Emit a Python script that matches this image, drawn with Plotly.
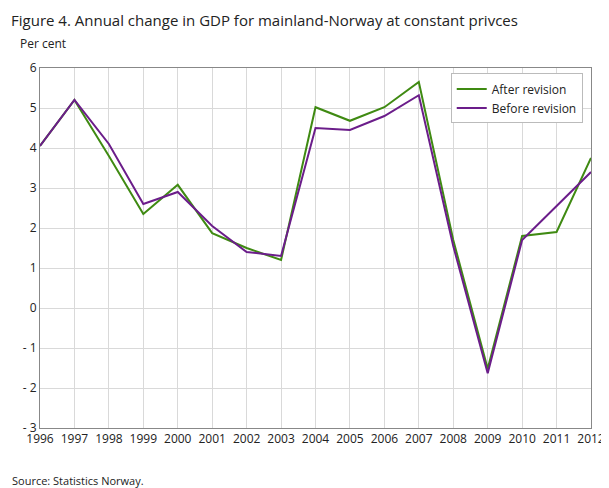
import plotly.graph_objects as go

years = list(range(1996, 2013))
after = [4.05, 5.2, 3.8, 2.35, 3.08, 1.87, 1.5, 1.2, 5.02, 4.68, 5.02, 5.65, 1.7, -1.52, 1.8, 1.9, 3.75]
before = [4.05, 5.2, 4.1, 2.6, 2.9, 2.05, 1.4, 1.3, 4.5, 4.45, 4.8, 5.32, 1.55, -1.63, 1.7, 2.55, 3.4]
yticks = [-3, -2, -1, 0, 1, 2, 3, 4, 5, 6]
ytext = ["- 3", "- 2", "- 1", "0", "1", "2", "3", "4", "5", "6"]

fig = go.Figure()
fig.add_trace(go.Scatter(x=years, y=after, mode="lines", name="After revision",
                         line=dict(color="#3f8a12", width=2)))
fig.add_trace(go.Scatter(x=years, y=before, mode="lines", name="Before revision",
                         line=dict(color="#6b1d8a", width=2)))
fig.update_layout(
    width=609, height=488, plot_bgcolor="white", paper_bgcolor="white",
    font=dict(family="Open Sans", size=12, color="#222"),
    margin=dict(l=32, r=18, t=60, b=68),
    title=dict(text="Figure 4. Annual change in GDP for mainland-Norway at constant privces",
               x=0.005, xanchor="left", y=0.985, yanchor="top", font=dict(size=15)),
    legend=dict(x=0.985, xanchor="right", y=0.985, yanchor="top", bordercolor="#bbb",
                borderwidth=1, bgcolor="white", font=dict(size=12)),
    annotations=[
        dict(text="Per cent", xref="paper", yref="paper", x=-0.04, y=1.04, xanchor="left",
             yanchor="bottom", showarrow=False, font=dict(size=12)),
        dict(text="Source: Statistics Norway.", xref="paper", yref="paper", x=-0.055, y=-0.12,
             xanchor="left", yanchor="top", showarrow=False, font=dict(size=11)),
    ],
)
fig.update_xaxes(range=[1996, 2012], tickvals=years, showgrid=True, gridcolor="#d9d9d9",
                 showline=True, linecolor="#888", mirror=True, ticks="", tickfont=dict(size=12))
fig.update_yaxes(range=[-3, 6], tickvals=yticks, ticktext=ytext, showgrid=True, gridcolor="#d9d9d9",
                 zeroline=False, showline=True, linecolor="#888", mirror=True, ticks="",
                 tickfont=dict(size=12))
fig.write_html("out.html")
